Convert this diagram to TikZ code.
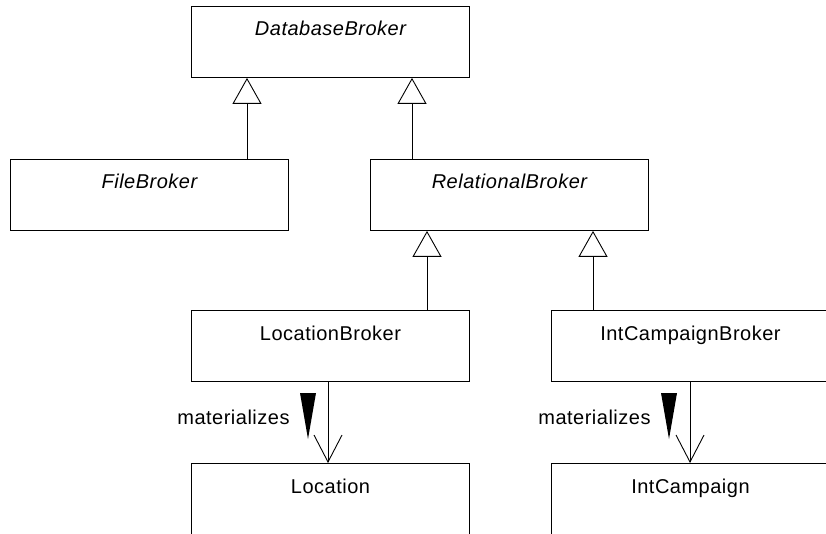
\documentclass[tikz,border=0pt]{standalone}
\usepackage{fontspec}
\setmainfont{Liberation Sans}[LetterSpace=2.5]
\usetikzlibrary{arrows.meta,calc}
\begin{document}
\begin{tikzpicture}[x=1pt,y=-1pt, line width=0.9pt,
  cls/.style={draw, rectangle, minimum width=278pt, minimum height=71pt, inner sep=0pt, anchor=north west},
  ctext/.style={font=\fontsize{20}{24}\selectfont, anchor=base, inner sep=0pt, yshift=-30pt},
  gen/.style={-{Triangle[open,length=26pt,width=29pt]}},
  mat/.style={-{Straight Barb[length=27pt,width=28pt]}},
  lbl/.style={font=\fontsize{20}{24}\selectfont, anchor=base east, inner sep=0pt}
]
\useasboundingbox (0,0) rectangle (826,534);
\clip (0,0) rectangle (826,534);
% classes
\node[cls, label={[ctext]north:\itshape DatabaseBroker}] (db) at (191,6) {};
\node[cls, label={[ctext]north:\itshape FileBroker}] (fb) at (10,159) {};
\node[cls, label={[ctext]north:\itshape RelationalBroker}] (rb) at (370,159) {};
\node[cls, label={[ctext]north:LocationBroker}] (lb) at (191,310) {};
\node[cls, label={[ctext]north:IntCampaignBroker}] (icb) at (551,310) {};
\node[cls, label={[ctext]north:Location}] (loc) at (191,463) {};
\node[cls, label={[ctext]north:IntCampaign}] (ic) at (551,463) {};
% x positions of connectors
\coordinate (x1) at (247,0);
\coordinate (x2) at (412,0);
\coordinate (x3) at (427,0);
\coordinate (x4) at (593,0);
\coordinate (x5) at (328,0);
\coordinate (x6) at (690,0);
% generalisations
\draw[gen] (fb.north -| x1) -- (db.south -| x1);
\draw[gen] (rb.north -| x2) -- (db.south -| x2);
\draw[gen] (lb.north -| x3) -- (rb.south -| x3);
\draw[gen] (icb.north -| x4) -- (rb.south -| x4);
% materializes
\draw[mat] (lb.south -| x5) -- (loc.north -| x5);
\draw[mat] (icb.south -| x6) -- (ic.north -| x6);
\coordinate (d1) at (308,393);
\coordinate (d2) at (669,393);
\fill (d1) -- ++(-8,0) -- ++(8,46) -- ++(8,-46) -- cycle;
\fill (d2) -- ++(-8,0) -- ++(8,46) -- ++(8,-46) -- cycle;
\node[lbl] (ml1) at (290,424) {materializes};
\node[lbl] (ml2) at (651,424) {materializes};
\end{tikzpicture}
\end{document}
